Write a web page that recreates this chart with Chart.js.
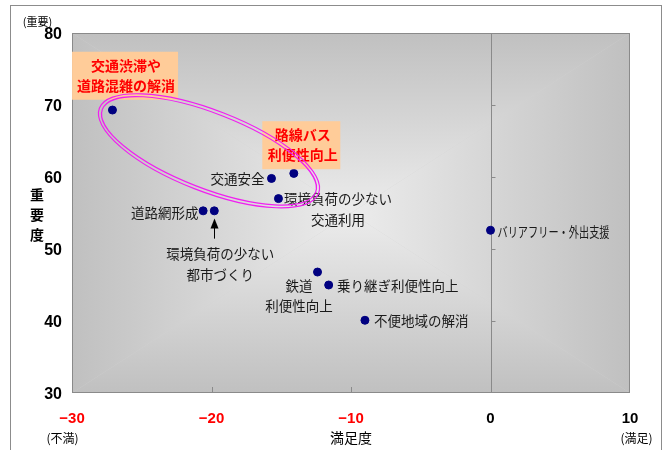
<!DOCTYPE html>
<html>
<head>
<meta charset="utf-8">
<script src="https://cdn.jsdelivr.net/npm/chart.js@4.4.0/dist/chart.umd.min.js"></script>
<style>
  html, body { margin: 0; padding: 0; background: #fff; }
</style>
</head>
<body>
<canvas id="chart" width="664" height="450"></canvas>
<script>
// 施策ごとの満足度・重要度
const names = [
  '交通渋滞や\n道路混雑の解消',
  '路線バス\n利便性向上',
  '交通安全',
  '環境負荷の少ない\n交通利用',
  '道路網形成',
  '環境負荷の少ない\n都市づくり',
  '鉄道\n利便性向上',
  '乗り継ぎ利便性向上',
  '不便地域の解消',
  'バリアフリー・外出支援'
];
const satisfaction = [-27.1, -14.1, -15.7, -15.2, -20.6, -19.8, -12.4, -11.6, -9.0, 0.0];
const importance   = [69.3, 60.5, 59.8, 57.0, 55.3, 55.3, 46.8, 45.0, 40.1, 52.6];

const xTicks = [-30, -20, -10, 0, 10];
const yTicks = [30, 40, 50, 60, 70, 80];

// ラベルの置き方（点からのずれ, px）
const placement = [
  { align: 'center', dx: 13.5, dy: [-44, -24], box: { dx: 12.6, dy: -34.3, w: 106, h: 48 } },
  { align: 'center', dx: 9, dy: [-38.5, -18.5], box: { dx: 7.5, dy: -28.2, w: 78, h: 48 } },
  { align: 'right', dx: -7, dy: [0] },
  { align: 'center', dx: 59.6, dy: [0, 21] },
  { align: 'right', dx: -4.6, dy: [2] },
  { align: 'center', dx: 6, dy: [43.5, 63.6], arrow: { from: 27.8, to: 7.7 } },
  { align: 'center', dx: -18.5, dy: [13.4, 33.5] },
  { align: 'left', dx: 8.3, dy: [1] },
  { align: 'left', dx: 9, dy: [0.7] },
  { align: 'left', dx: 7, dy: [1.5], maxW: 112 }
];

// 注目施策を囲む楕円
const ring = { x: -20.18, y: 63.64, rx: 116, ry: 39, rot: 21.3 };

const JP = '"Noto Sans CJK JP", "Noto Sans CJK SC", sans-serif';
const NUM = '"Liberation Sans", Arial, sans-serif';

const decor = {
  id: 'decor',
  beforeDraw(chart) {
    const { ctx, chartArea: a, scales: { x, y } } = chart;
    ctx.save();
    ctx.fillStyle = '#fff';
    ctx.fillRect(0, 0, chart.width, chart.height);
    ctx.strokeStyle = '#8c8c8c';
    ctx.lineWidth = 1;
    ctx.strokeRect(10.5, 5.5, 651, 470);

    // プロットエリア：中心から外へのグラデーション
    const cx = (a.left + a.right) / 2, cy = (a.top + a.bottom) / 2;
    ctx.fillStyle = '#d2d2d2';
    ctx.fillRect(a.left, a.top, a.right - a.left, a.bottom - a.top);
    const corners = [[a.left, a.top], [a.right, a.top], [a.right, a.bottom], [a.left, a.bottom]];
    const mids = [[cx, a.top], [a.right, cy], [cx, a.bottom], [a.left, cy]];
    for (let i = 0; i < 4; i++) {
      const c1 = corners[i], c2 = corners[(i + 1) % 4], m = mids[i];
      const g = ctx.createLinearGradient(cx, cy, m[0], m[1]);
      g.addColorStop(0, '#ececec');
      g.addColorStop(1, '#c0c0c0');
      ctx.beginPath();
      ctx.moveTo(cx, cy);
      ctx.lineTo(c1[0], c1[1]);
      ctx.lineTo(c2[0], c2[1]);
      ctx.closePath();
      ctx.fillStyle = g;
      ctx.fill();
    }

    ctx.strokeStyle = '#8a8a8a';
    ctx.strokeRect(a.left + 0.5, a.top + 0.5, a.right - a.left - 1, a.bottom - a.top - 1);

    // x=0 の縦軸と目盛
    const x0 = Math.round(x.getPixelForValue(0)) + 0.5;
    ctx.beginPath();
    ctx.moveTo(x0, a.top);
    ctx.lineTo(x0, a.bottom);
    yTicks.forEach(v => {
      if (v > y.min && v < y.max) {
        const py = Math.round(y.getPixelForValue(v)) + 0.5;
        ctx.moveTo(x0, py);
        ctx.lineTo(x0 + 4, py);
      }
    });
    xTicks.forEach(v => {
      if (v > x.min && v < x.max) {
        const px = Math.round(x.getPixelForValue(v)) + 0.5;
        ctx.moveTo(px, a.bottom);
        ctx.lineTo(px, a.bottom - 6);
      }
    });
    ctx.stroke();

    // 軸の見出し
    ctx.fillStyle = '#000';
    ctx.textBaseline = 'middle';
    ctx.textAlign = 'center';
    ctx.font = '11px ' + JP;
    ctx.fillText('(重要)', 37.5, 22);
    ctx.font = 'bold 14px ' + JP;
    ['重', '要', '度'].forEach((ch, i) => ctx.fillText(ch, 37, 195 + i * 20));
    ctx.font = '12px ' + JP;
    ctx.fillText('(不満)', 62.5, 438);
    ctx.fillText('(満足)', 636.5, 438);
    ctx.font = '14px ' + JP;
    ctx.fillText('満足度', (a.left + a.right) / 2, 438);
    ctx.restore();
  },
  afterDatasetsDraw(chart) {
    const { ctx, scales: { x, y } } = chart;
    ctx.save();
    ctx.textBaseline = 'middle';
    names.forEach((name, i) => {
      const p = placement[i];
      const px = x.getPixelForValue(satisfaction[i]);
      const py = y.getPixelForValue(importance[i]);
      const lines = name.split('\n');
      if (p.box) {
        ctx.fillStyle = '#ffcc99';
        ctx.fillRect(px + p.box.dx - p.box.w / 2, py + p.box.dy - p.box.h / 2, p.box.w, p.box.h);
        ctx.fillStyle = '#ff0000';
        ctx.font = 'bold 14px ' + JP;
      } else {
        ctx.fillStyle = '#1a1a1a';
        ctx.font = '13.5px ' + JP;
      }
      ctx.textAlign = p.align;
      lines.forEach((ln, k) => {
        if (p.maxW) ctx.fillText(ln, px + p.dx, py + p.dy[k], p.maxW);
        else ctx.fillText(ln, px + p.dx, py + p.dy[k]);
      });
      if (p.arrow) {
        const ax = Math.round(px) + 0.5;
        ctx.strokeStyle = '#000';
        ctx.lineWidth = 1;
        ctx.beginPath();
        ctx.moveTo(ax, py + p.arrow.from);
        ctx.lineTo(ax, py + p.arrow.to + 8);
        ctx.stroke();
        ctx.fillStyle = '#000';
        ctx.beginPath();
        ctx.moveTo(ax, py + p.arrow.to);
        ctx.lineTo(ax - 4, py + p.arrow.to + 10);
        ctx.lineTo(ax + 4, py + p.arrow.to + 10);
        ctx.closePath();
        ctx.fill();
      }
    });

    // 二重線の楕円
    const ex = x.getPixelForValue(ring.x), ey = y.getPixelForValue(ring.y);
    ctx.strokeStyle = '#f020f0';
    ctx.lineWidth = 1.2;
    [-1.6, 1.6].forEach(d => {
      ctx.beginPath();
      ctx.ellipse(ex, ey, ring.rx + d, ring.ry + d, ring.rot * Math.PI / 180, 0, Math.PI * 2);
      ctx.stroke();
    });
    ctx.restore();
  }
};

new Chart(document.getElementById('chart'), {
  type: 'scatter',
  data: {
    datasets: [{
      data: satisfaction.map((v, i) => ({ x: v, y: importance[i] })),
      backgroundColor: '#000080',
      borderColor: '#000080',
      pointRadius: 4,
      pointHoverRadius: 4
    }]
  },
  options: {
    responsive: false,
    animation: false,
    devicePixelRatio: 1,
    layout: { padding: { left: 0, top: 33, right: 34, bottom: 0 } },
    plugins: { legend: { display: false }, tooltip: { enabled: false } },
    scales: {
      x: {
        type: 'linear',
        min: -30,
        max: 10,
        afterBuildTicks: s => { s.ticks = xTicks.map(v => ({ value: v })); },
        afterFit: s => { s.height = 57; },
        grid: { display: false, drawTicks: false },
        border: { display: false },
        ticks: {
          padding: 17,
          maxRotation: 0,
          color: c => (c.tick && c.tick.value < 0 ? '#ff0000' : '#000'),
          font: { family: NUM, size: 15, weight: 'bold' },
          callback: v => (v < 0 ? '\u2212' + Math.abs(v) : String(v))
        }
      },
      y: {
        type: 'linear',
        min: 30,
        max: 80,
        afterBuildTicks: s => { s.ticks = yTicks.map(v => ({ value: v })); },
        afterFit: s => { s.width = 72; },
        grid: { display: false, drawTicks: false },
        border: { display: false },
        ticks: {
          padding: 10,
          labelOffset: 2,
          color: '#000',
          font: { family: NUM, size: 16, weight: 'bold' }
        }
      }
    }
  },
  plugins: [decor]
});
</script>
</body>
</html>
